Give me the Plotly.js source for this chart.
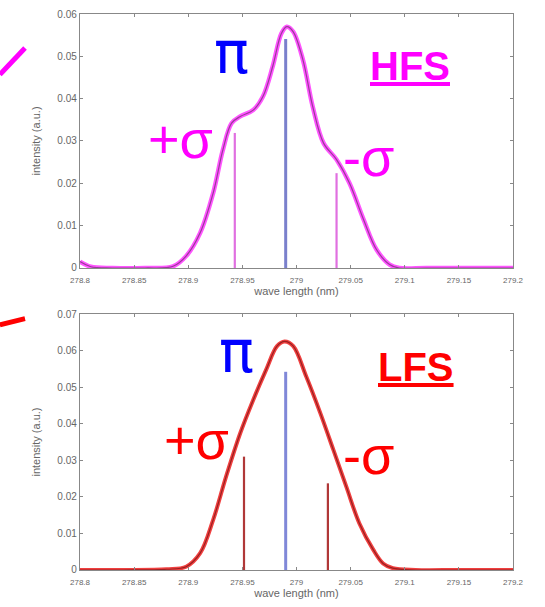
<!DOCTYPE html>
<html><head><meta charset="utf-8">
<script src="https://cdn.plot.ly/plotly-3.0.1.min.js"></script>
<style>html,body{margin:0;padding:0;background:#fff}#plot{width:545px;height:607px}</style>
</head><body><div id="plot"></div>
<script>
// HFS profile (top)
const hfsX = [278.8, 278.81, 278.83, 278.86, 278.886, 278.898, 278.911, 278.923, 278.932, 278.940, 278.948, 278.960, 278.969, 278.978, 278.986, 278.991, 278.997, 279.006, 279.015, 279.025, 279.037, 279.049, 279.062, 279.074, 279.086, 279.095, 279.12, 279.16, 279.2];
const hfsY = [0.0015, 0.0003, 0.0, 0.0, 0.0004, 0.0028, 0.0083, 0.0177, 0.0279, 0.0342, 0.0358, 0.0373, 0.0405, 0.0476, 0.0554, 0.0570, 0.0558, 0.0491, 0.0381, 0.0295, 0.0256, 0.0200, 0.0114, 0.0043, 0.0008, 0.0, 0.0, 0.0, 0.0];
// LFS profile (bottom)
const lfsX = [278.8, 278.84, 278.88, 278.898, 278.911, 278.923, 278.935, 278.948, 278.960, 278.972, 278.982, 278.989, 278.997, 279.009, 279.022, 279.034, 279.046, 279.058, 279.071, 279.080, 279.089, 279.11, 279.15, 279.2];
const lfsY = [0.0, 0.0, 0.0002, 0.0009, 0.0046, 0.0137, 0.0256, 0.0374, 0.0465, 0.0548, 0.0612, 0.0625, 0.0612, 0.0529, 0.0429, 0.0329, 0.0228, 0.0128, 0.0055, 0.0018, 0.0005, 0.0, 0.0, 0.0];
// Zeeman components: [+sigma, pi, -sigma]
const hfsCompX = [278.943, 278.990, 279.037];
const hfsCompY = [0.0319, 0.0541, 0.0224];
const lfsCompX = [278.9515, 278.990, 279.029];
const lfsCompY = [0.031, 0.0542, 0.0237];
// ticks
const xTickVals = [278.8, 278.85, 278.9, 278.95, 279, 279.05, 279.1, 279.15, 279.2];
const xTickText = ["278.8", "278.85", "278.9", "278.95", "279", "279.05", "279.1", "279.15", "279.2"];
const yTopVals = [0, 0.01, 0.02, 0.03, 0.04, 0.05, 0.06];
const yTopText = ["0", "0.01", "0.02", "0.03", "0.04", "0.05", "0.06"];
const yBotVals = [0, 0.01, 0.02, 0.03, 0.04, 0.05, 0.06, 0.07];
const yBotText = ["0", "0.01", "0.02", "0.03", "0.04", "0.05", "0.06", "0.07"];

function stick(x, h, color, w, ax) {
  return {x: [x, x], y: [0, h], mode: 'lines', line: {color: color, width: w}, xaxis: ax[0], yaxis: ax[1], showlegend: false, hoverinfo: 'skip'};
}
const traces = [];
traces.push({x: hfsX, y: hfsY, mode: 'lines', line: {color: '#ff55ff', width: 4.5, shape: 'spline'}, xaxis: 'x', yaxis: 'y', showlegend: false});
traces.push({x: hfsX, y: hfsY, mode: 'lines', line: {color: '#9a3a9a', width: 1.2, shape: 'spline'}, xaxis: 'x', yaxis: 'y', showlegend: false});
traces.push(stick(hfsCompX[0], hfsCompY[0], '#e070e0', 2.2, ['x', 'y']));
traces.push(stick(hfsCompX[1], hfsCompY[1], '#7a80cc', 3, ['x', 'y']));
traces.push(stick(hfsCompX[2], hfsCompY[2], '#e070e0', 2.2, ['x', 'y']));
traces.push({x: lfsX, y: lfsY, mode: 'lines', line: {color: '#f04040', width: 4, shape: 'spline'}, xaxis: 'x2', yaxis: 'y2', showlegend: false});
traces.push({x: lfsX, y: lfsY, mode: 'lines', line: {color: '#9a2020', width: 1.2, shape: 'spline'}, xaxis: 'x2', yaxis: 'y2', showlegend: false});
traces.push(stick(lfsCompX[0], lfsCompY[0], '#b03838', 2.2, ['x2', 'y2']));
traces.push(stick(lfsCompX[1], lfsCompY[1], '#8088d8', 3, ['x2', 'y2']));
traces.push(stick(lfsCompX[2], lfsCompY[2], '#b03838', 2.2, ['x2', 'y2']));

const tickFont = {family: 'Liberation Sans, Arial, sans-serif', size: 8, color: '#666'};
const titleFont = {family: 'Liberation Sans, Arial, sans-serif', size: 11, color: '#666'};
function xax(anchor) {
  return {range: [278.8, 279.2], tickvals: xTickVals, ticktext: xTickText, tickfont: tickFont, ticks: 'inside', ticklen: 3, tickcolor: '#888', ticklabelstandoff: 4, showline: true, linecolor: '#888', linewidth: 1.2, mirror: 'ticks', showgrid: false, zeroline: false, anchor: anchor, title: {text: 'wave length (nm)', font: titleFont, standoff: 3}};
}
function yax(range, vals, text, domain, anchor) {
  return {range: range, tickvals: vals, ticktext: text, tickfont: {family: 'Liberation Sans, Arial, sans-serif', size: 10, color: '#666'}, ticks: 'inside', ticklen: 3, tickcolor: '#888', showline: true, linecolor: '#888', linewidth: 1.2, mirror: 'ticks', showgrid: false, zeroline: false, domain: domain, anchor: anchor, title: {text: 'intensity (a.u.)', font: titleFont, standoff: 14}};
}
const annFont = (c, s, fam) => ({family: fam || 'Liberation Sans, Arial, sans-serif', size: s, color: c});
const piFam = 'DejaVu Sans, sans-serif';
const annotations = [
  {text: 'π', x: 0.351, y: 0.930, font: annFont('#0000ff', 58, piFam)},
  {text: '<b><u>HFS</u></b>', x: 0.762, y: 0.906, font: annFont('#ff00ff', 40)},
  {text: '+σ', x: 0.231, y: 0.775, font: annFont('#ff00ff', 54)},
  {text: '-σ', x: 0.667, y: 0.743, font: annFont('#ff00ff', 54)},
  {text: 'π', x: 0.362, y: 0.392, font: annFont('#0000ff', 58, piFam)},
  {text: '<b><u>LFS</u></b>', x: 0.776, y: 0.365, font: annFont('#ff0000', 40)},
  {text: '+σ', x: 0.270, y: 0.234, font: annFont('#ff0000', 54)},
  {text: '-σ', x: 0.667, y: 0.207, font: annFont('#ff0000', 54)}
].map(a => Object.assign({xref: 'paper', yref: 'paper', showarrow: false, xanchor: 'center', yanchor: 'middle'}, a));

const layout = {
  width: 545, height: 607,
  margin: {l: 80, r: 32, t: 14, b: 37},
  paper_bgcolor: '#fff', plot_bgcolor: '#fff',
  showlegend: false,
  xaxis: xax('y'),
  yaxis: yax([0, 0.06], yTopVals, yTopText, [0.5432, 1], 'x'),
  xaxis2: xax('y2'),
  yaxis2: yax([0, 0.07], yBotVals, yBotText, [0, 0.4604], 'x2'),
  annotations: annotations,
  shapes: [
    {type: 'line', xref: 'paper', yref: 'paper', x0: -0.185, y0: 0.891, x1: -0.127, y1: 0.939, line: {color: '#ff00ff', width: 5}},
    {type: 'line', xref: 'paper', yref: 'paper', x0: -0.185, y0: 0.441, x1: -0.127, y1: 0.452, line: {color: '#ff0000', width: 5}}
  ]
};
Plotly.newPlot('plot', traces, layout, {displayModeBar: false, staticPlot: true});
</script></body></html>
